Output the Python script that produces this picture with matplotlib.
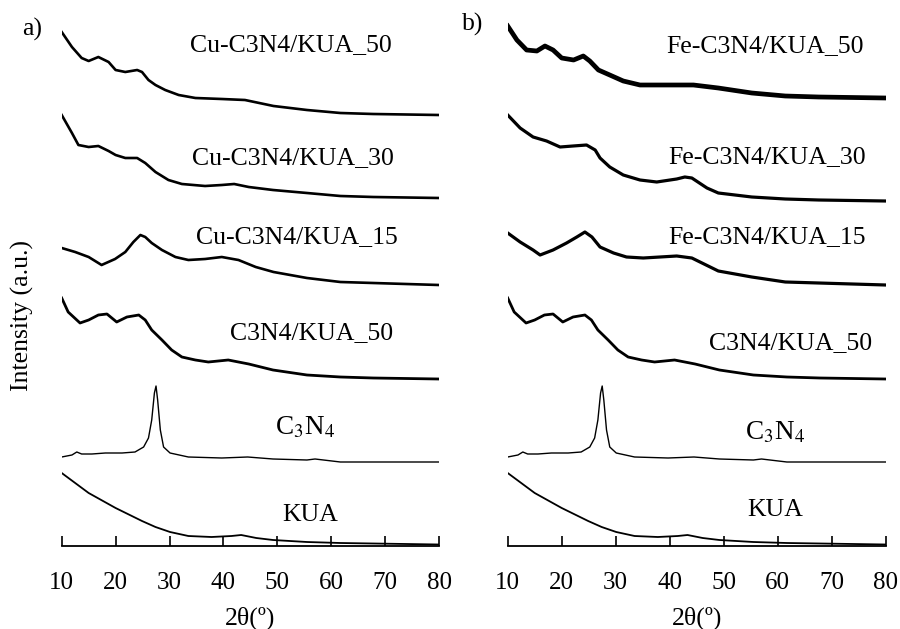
import matplotlib.pyplot as plt

plt.rcParams['font.family'] = 'Liberation Serif'
plt.rcParams['mathtext.fontset'] = 'stix'

# left panel (Cu)
cu50_x = [10, 11.9, 13.7, 15, 16.8, 18.7, 20, 21.8, 24, 24.9, 26.1, 27.4, 29.2, 31.7, 34.8, 39.7, 44, 49.3, 55.5, 61.7, 67.8, 80]
cu50_y = [514, 499, 488, 485, 489, 484, 476, 474, 476, 474, 466, 461, 456, 451, 448, 447, 446, 440, 436, 433, 432, 431]

cu30_x = [10, 11.9, 13.1, 15, 16.8, 18.7, 20, 21.8, 24, 25.5, 27.4, 29.8, 32.3, 36.6, 39.7, 42, 44.7, 49.2, 55.5, 61.7, 67.8, 80]
cu30_y = [431, 413, 401, 399, 400, 395, 391, 388, 388, 383, 374, 366, 362, 360, 361, 362, 359, 356, 353, 350, 349, 348]

cu15_x = [10, 12.5, 15, 17.4, 19.9, 21.8, 23.3, 24.6, 25.5, 26.7, 28.6, 31.1, 33.5, 36.6, 39.7, 42.8, 46, 49.3, 55.5, 61.7, 67.8, 80]
cu15_y = [298, 294, 289, 281, 287, 294, 304, 311, 309, 303, 296, 289, 286, 287, 289, 286, 279, 274, 268, 264, 263, 261]

# shared by both panels
mix50_x = [10, 11.2, 13.4, 15, 16.8, 18.4, 20.2, 22.1, 24.3, 25.5, 26.7, 28.6, 30.4, 32.3, 34.8, 37.2, 40.9, 44.7, 49.2, 55.5, 61.7, 67.8, 80]
mix50_y = [248, 234, 223, 226, 231, 232, 224, 229, 231, 226, 216, 206, 196, 189, 186, 184, 186, 182, 176, 171, 169, 168, 167]

c3n4_x = [10, 11.9, 12.8, 13.7, 15.6, 18.1, 21.2, 23.6, 25.2, 26.1, 26.7, 27.2, 27.5, 27.8, 28.3, 28.9, 30.1, 33.5, 39.7, 44.5, 49.2, 55.5, 57, 61.7, 80]
c3n4_y = [89, 91, 94, 92, 92, 93, 93, 94, 99, 108, 126, 153, 160, 146, 116, 99, 93, 89, 88, 89, 87, 86, 87, 84, 84]

kua_x = [10, 15, 20, 24.9, 27.4, 30.1, 33.5, 37.8, 41.5, 43.3, 46.1, 49.2, 55.5, 61.7, 80]
kua_y = [73, 53, 38, 25, 19, 14, 10, 9, 10, 11, 8, 6, 4, 3, 1.5]

# right panel (Fe)
fe50_x = [10, 11.7, 13.5, 15.4, 16.9, 18.4, 20, 22.2, 24, 25.2, 26.8, 28.9, 31.4, 34.5, 39.4, 44.4, 49, 55.2, 61.4, 67.6, 80]
fe50_y = [520, 506, 496, 495, 500, 496, 488, 486, 490, 485, 476, 471, 465, 461, 461, 461, 458, 453, 450, 449, 448]

fe30_x = [10, 12.3, 14.7, 17.2, 19.7, 22.1, 24.6, 26.2, 27.1, 28.9, 31.4, 34.5, 37.6, 41.3, 42.8, 44.1, 46.9, 49, 55.2, 61.4, 67.6, 80]
fe30_y = [431, 418, 409, 405, 399, 400, 401, 396, 388, 379, 371, 366, 364, 367, 369, 368, 358, 353, 349, 347, 346, 345]

fe15_x = [10, 12.3, 14.7, 16, 18.4, 20.9, 22.8, 24.3, 25.6, 27.1, 29.6, 32, 35.1, 38.2, 41.3, 44.1, 49, 55.2, 61.4, 67.6, 80]
fe15_y = [313, 304, 296, 291, 296, 303, 309, 314, 309, 299, 293, 289, 288, 289, 290, 288, 275, 269, 264, 263, 261]

fig = plt.figure(figsize=(9, 6.29), dpi=100)
bottom = 1 - 546 / 629
ax1 = fig.add_axes([61.7 / 900, bottom, (439 - 61.7) / 900, 1 - bottom])
ax2 = fig.add_axes([507.7 / 900, bottom, (885.7 - 507.7) / 900, 1 - bottom])

ax1.plot(cu50_x, cu50_y, color='black', lw=1.9)
ax1.plot(cu30_x, cu30_y, color='black', lw=1.9)
ax1.plot(cu15_x, cu15_y, color='black', lw=1.9)
ax1.plot(mix50_x, mix50_y, color='black', lw=2.0)
ax1.plot(c3n4_x, c3n4_y, color='black', lw=1.0)
ax1.plot(kua_x, kua_y, color='black', lw=1.3)

ax2.plot(fe50_x, fe50_y, color='black', lw=3.4)
ax2.plot(fe30_x, fe30_y, color='black', lw=2.3)
ax2.plot(fe15_x, fe15_y, color='black', lw=2.3)
ax2.plot(mix50_x, mix50_y, color='black', lw=2.0)
ax2.plot(c3n4_x, c3n4_y, color='black', lw=1.0)
ax2.plot(kua_x, kua_y, color='black', lw=1.3)

fs = 18.5
ax1.text(52.5, 501, 'Cu-C3N4/KUA_50', fontsize=fs, ha='center', va='center')
ax1.text(52.9, 388, 'Cu-C3N4/KUA_30', fontsize=fs, ha='center', va='center')
ax1.text(53.6, 309, 'Cu-C3N4/KUA_15', fontsize=fs, ha='center', va='center')
ax1.text(56.4, 213, 'C3N4/KUA_50', fontsize=fs, ha='center', va='center')
ax1.text(55.1, 118, r'C$_3$N$_4$', fontsize=fs + 1, ha='center', va='center')
ax1.text(56.2, 31, 'KUA', fontsize=fs, ha='center', va='center')

ax2.text(57.6, 500, 'Fe-C3N4/KUA_50', fontsize=fs, ha='center', va='center')
ax2.text(58.0, 389, 'Fe-C3N4/KUA_30', fontsize=fs, ha='center', va='center')
ax2.text(58.0, 309, 'Fe-C3N4/KUA_15', fontsize=fs, ha='center', va='center')
ax2.text(62.3, 203, 'C3N4/KUA_50', fontsize=fs, ha='center', va='center')
ax2.text(59.5, 113, r'C$_3$N$_4$', fontsize=fs + 1, ha='center', va='center')
ax2.text(59.5, 36, 'KUA', fontsize=fs, ha='center', va='center')

for ax in (ax1, ax2):
    ax.set_xlim(10, 80)
    ax.set_ylim(0, 546)
    ax.set_xticks(range(10, 81, 10))
    ax.set_yticks([])
    for s in ('left', 'top', 'right'):
        ax.spines[s].set_visible(False)
    ax.spines['bottom'].set_linewidth(1.3)
    ax.tick_params(axis='x', direction='in', length=7, width=1.2, pad=19, labelsize=18)
    ax.set_xlabel('2θ(º)', fontsize=18.5, labelpad=9)
    ax.patch.set_visible(False)

fig.text(32 / 900, 1 - 29 / 629, 'a)', fontsize=18.5, ha='center', va='center')
fig.text(473 / 900, 1 - 24 / 629, 'b)', fontsize=18.5, ha='center', va='center')
fig.text(22 / 900, 1 - 316 / 629, 'Intensity (a.u.)', fontsize=18.5, rotation=90, ha='center', va='center')

fig.savefig('out.png', dpi=100)
